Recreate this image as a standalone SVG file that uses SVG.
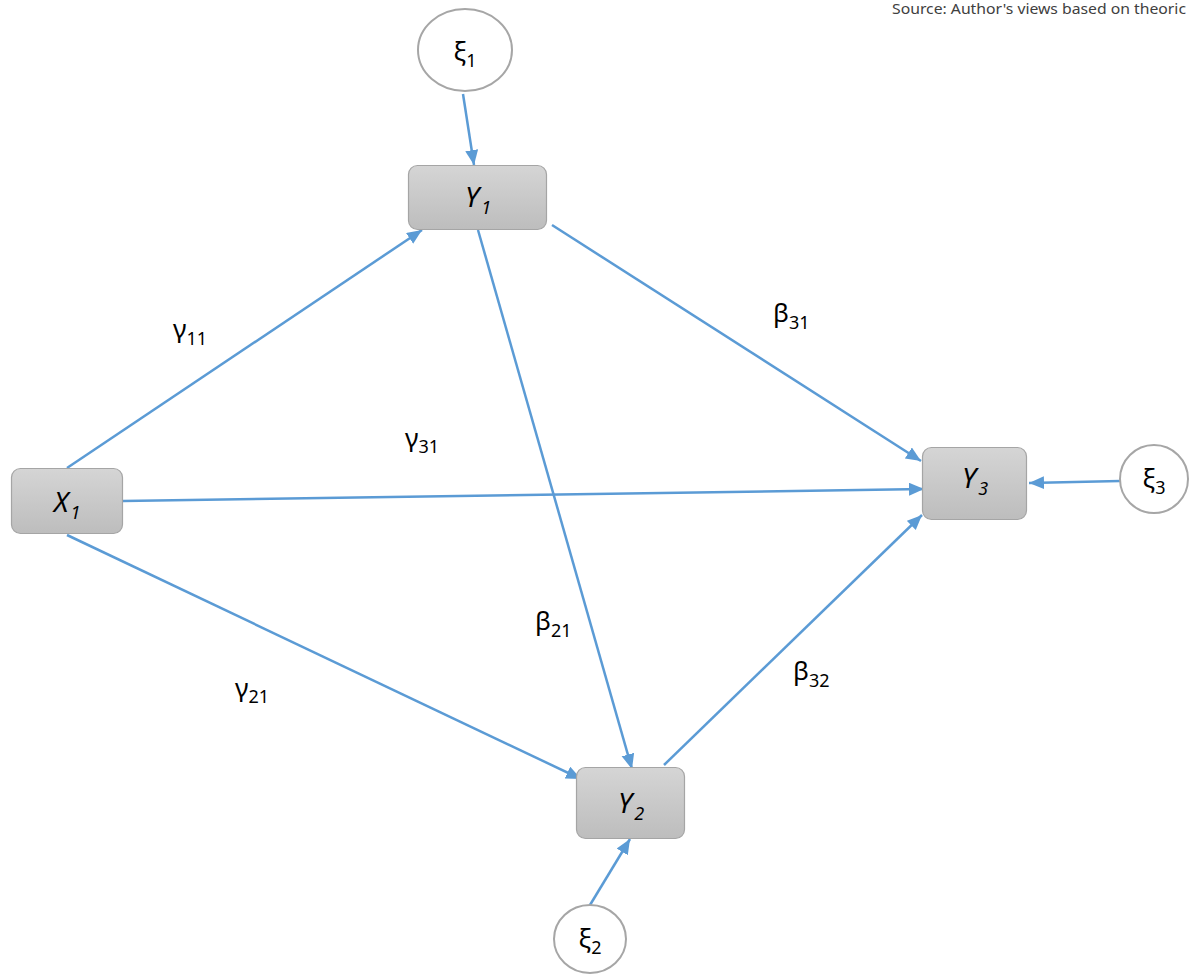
<svg xmlns="http://www.w3.org/2000/svg" width="1189" height="974" viewBox="0 0 1189 974">
<style>
.box{stroke:#a5a5a5;stroke-width:1.2;fill:url(#g)}
.circ{fill:#fff;stroke:#a6a6a6;stroke-width:2}
.edge{stroke:#5b9bd5;stroke-width:2.5;fill:none;marker-end:url(#ah)}
.lbl{font-family:"Noto Sans","Open Sans",sans-serif;font-size:26px;fill:#000}
.it{font-style:italic;font-size:28px}
.sub{font-size:18px}
.src{font-family:"Noto Sans","Open Sans",sans-serif;font-size:15px;fill:#404040}
</style>
<defs>
<linearGradient id="g" x1="0" y1="0" x2="0" y2="1">
<stop offset="0" stop-color="#d5d5d5"/>
<stop offset="1" stop-color="#bdbdbd"/>
</linearGradient>
<marker id="ah" markerUnits="userSpaceOnUse" markerWidth="16" markerHeight="14" refX="15" refY="6.5" orient="auto">
<path d="M0,0 L15,6.5 L0,13 z" fill="#5b9bd5"/>
</marker>
</defs>
<rect width="1189" height="974" fill="#fff"/>
<text class="src" x="892" y="14" textLength="294" lengthAdjust="spacingAndGlyphs">Source: Author's views based on theoric</text>
<g id="connectors">
<line class="edge" x1="463" y1="94" x2="474" y2="165"/>
<line class="edge" x1="67" y1="468" x2="422" y2="230"/>
<line class="edge" x1="552" y1="225" x2="921" y2="461"/>
<line class="edge" x1="123" y1="501" x2="924" y2="489"/>
<line class="edge" x1="664" y1="765" x2="922" y2="515"/>
<line class="edge" x1="1120" y1="481" x2="1029" y2="483"/>
<line class="edge" x1="478" y1="230" x2="632" y2="769"/>
<line class="edge" x1="67" y1="535" x2="581" y2="779"/>
<line class="edge" x1="590" y1="905" x2="630" y2="839"/>
</g>
<g id="Y1"><rect class="box" x="408.5" y="165.5" width="138" height="64" rx="9"/><text class="lbl it" x="478" y="207" text-anchor="middle">Y<tspan class="sub" dx="2" dy="7">1</tspan></text></g>
<g id="X1"><rect class="box" x="11.5" y="468.5" width="111" height="65" rx="9"/><text class="lbl it" x="67" y="512" text-anchor="middle">X<tspan class="sub" dx="2" dy="7">1</tspan></text></g>
<g id="Y3"><rect class="box" x="922.5" y="447.5" width="104" height="72" rx="9"/><text class="lbl it" x="975" y="488" text-anchor="middle">Y<tspan class="sub" dx="2" dy="7">3</tspan></text></g>
<g id="Y2"><rect class="box" x="576.5" y="767.5" width="108" height="71" rx="9"/><text class="lbl it" x="631" y="813" text-anchor="middle">Y<tspan class="sub" dx="2" dy="7">2</tspan></text></g>
<g id="xi1"><ellipse class="circ" cx="465" cy="50" rx="47" ry="41"/><text class="lbl" x="465" y="60" text-anchor="middle">ξ<tspan class="sub" dy="7">1</tspan></text></g>
<g id="xi3"><ellipse class="circ" cx="1154" cy="479" rx="34" ry="34"/><text class="lbl" x="1154" y="487" text-anchor="middle">ξ<tspan class="sub" dy="7">3</tspan></text></g>
<g id="xi2"><ellipse class="circ" cx="590" cy="939" rx="36" ry="34"/><text class="lbl" x="590" y="947" text-anchor="middle">ξ<tspan class="sub" dy="7">2</tspan></text></g>
<g id="labels">
<text class="lbl" x="173" y="338">γ<tspan class="sub" dy="7">11</tspan></text>
<text class="lbl" x="405" y="447">γ<tspan class="sub" dy="6">31</tspan></text>
<text class="lbl" x="235" y="697">γ<tspan class="sub" dy="6">21</tspan></text>
<text class="lbl" x="773" y="322">β<tspan class="sub" dy="7">31</tspan></text>
<text class="lbl" x="535" y="630">β<tspan class="sub" dy="7">21</tspan></text>
<text class="lbl" x="793" y="680">β<tspan class="sub" dy="7">32</tspan></text>
</g>
</svg>
